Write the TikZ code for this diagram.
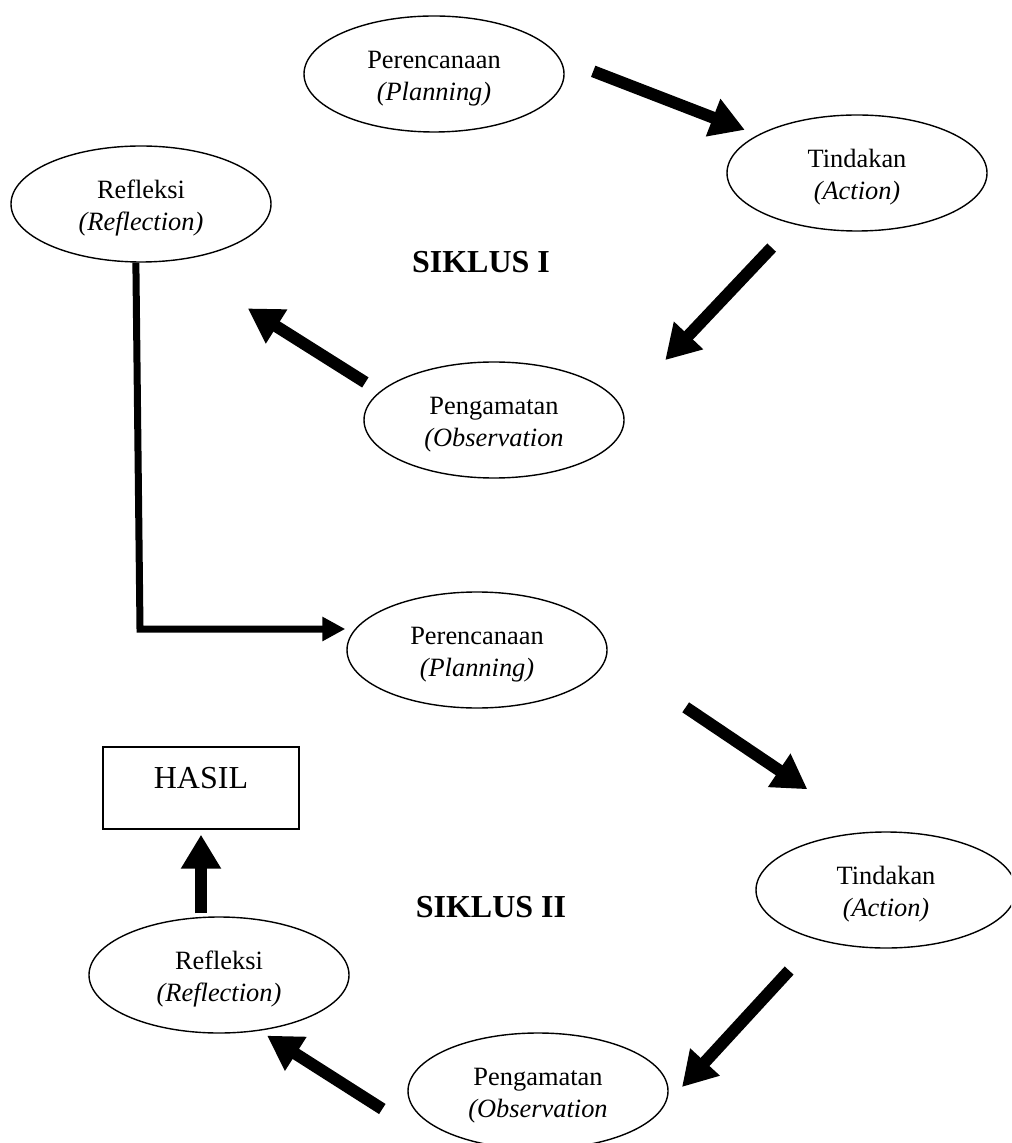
\documentclass[tikz,border=0pt]{standalone}
\usepackage{fontspec}
\setmainfont{Liberation Serif}
\usetikzlibrary{shapes.geometric,arrows.meta}

\tikzset{
    stage/.style={ellipse, draw, line width=0.7pt, minimum width=130pt, minimum height=58pt,
        inner sep=0pt, align=center, font=\fontsize{13.2}{16}\selectfont},
    result/.style={rectangle, draw, line width=0.7pt, minimum width=98pt, minimum height=41pt,
        inner sep=0pt, text height=12pt, text depth=12pt, font=\fontsize{16}{19}\selectfont},
    cyclename/.style={font=\fontsize{16}{19}\selectfont\bfseries},
    bigarrow/.style={line width=6pt, -{Triangle[length=17pt,width=19pt]}},
    linkarrow/.style={line width=3.5pt, -{Triangle[length=11.5pt,width=11.5pt]}}
}
\newcommand{\steptext}[2]{\rule{0pt}{13pt}#1\\\textit{#2}}

\begin{document}
\begin{tikzpicture}[x=0.5pt, y=-0.5pt]
                \clip (0,0) rectangle (1011,1143);
                % siklus I
                \node[stage] (pl1) at (434,74) {\steptext{Perencanaan}{(Planning)}};
                \node[stage] (ac1) at (857,173) {\steptext{Tindakan}{(Action)}};
                \node[stage] (ob1) at (494,420) {\steptext{Pengamatan}{(Observation}};
                \node[stage] (rf1) at (141,204) {\steptext{Refleksi}{(Reflection)}};
                \node[cyclename] (s1) at (481,262) {SIKLUS I};
                % siklus II
                \node[stage] (pl2) at (477,650) {\steptext{Perencanaan}{(Planning)}};
                \node[stage] (ac2) at (886,890) {\steptext{Tindakan}{(Action)}};
                \node[stage] (ob2) at (538,1091) {\steptext{Pengamatan}{(Observation}};
                \node[stage] (rf2) at (219,975) {\steptext{Refleksi}{(Reflection)}};
                \node[cyclename] (s2) at (491,907) {SIKLUS II};
                \node[result] (hasil) at (201,788) {HASIL};
                \coordinate (bend) at (140,629);

                \draw (pl1.7)--(ac1.159) [bigarrow, shorten <=17.75pt, shorten >=6.9pt];
                \draw (ac1.219)--(ob1.6) [bigarrow, shorten <=16pt, shorten >=32pt];
                \draw (ob1.166)--(rf1.299) [bigarrow, shorten <=8.5pt, shorten >=44.5pt];
                \draw (rf1.265)--(bend)--(pl2.west |- bend) [linkarrow, shorten >=0.5pt];
                \draw (pl2.358)--(ac2.105) [bigarrow, shorten <=47.25pt, shorten >=38pt];
                \draw (ac2.216)--(ob2.353) [bigarrow, shorten <=20.8pt, shorten >=13.25pt];
                \draw ([shift={(-25,18)}]ob2.west)--(rf2.306) [bigarrow, shorten >=4.5pt];
                \draw (rf2.north -| hasil.south)--(hasil.south) [bigarrow, shorten <=1.5pt, shorten >=2.5pt];
\end{tikzpicture}
\end{document}
